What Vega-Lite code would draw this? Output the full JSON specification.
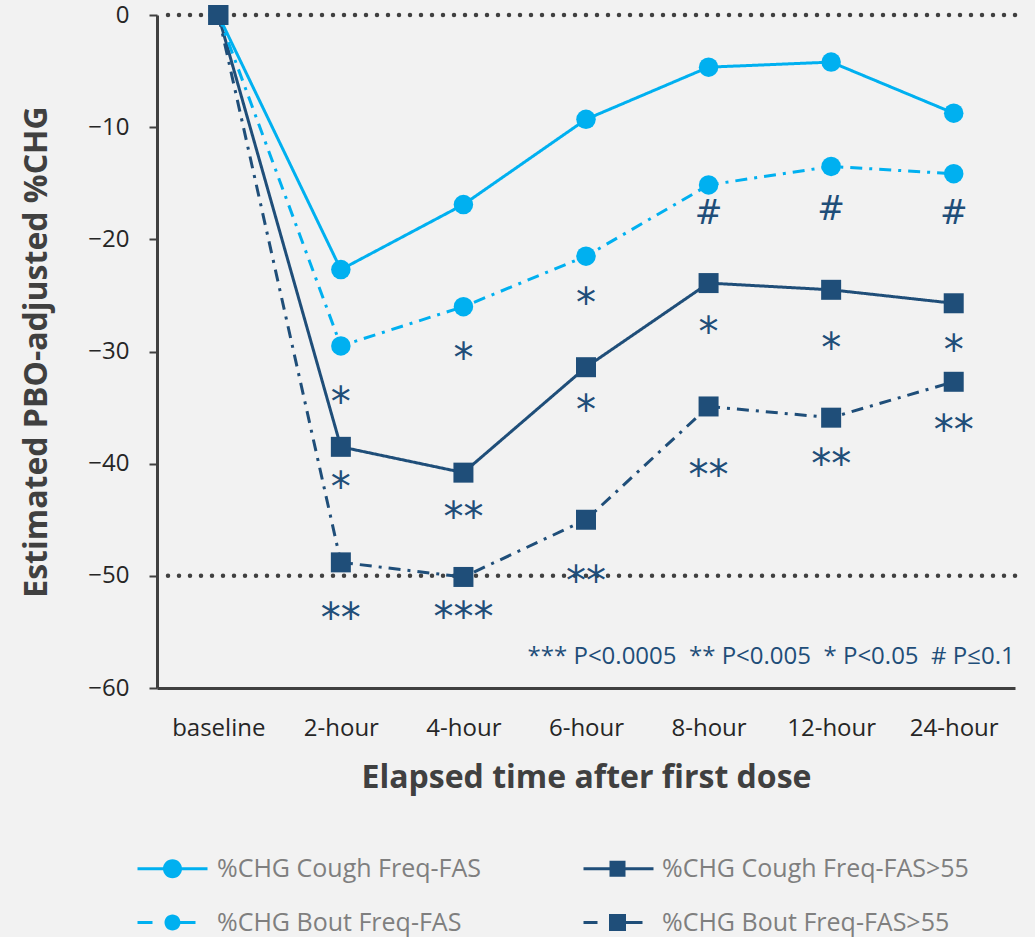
{
  "$schema": "https://vega.github.io/schema/vega-lite/v6.json",
  "width": 858,
  "height": 673,
  "autosize": "none",
  "padding": {"left": 157, "top": 15, "right": 20, "bottom": 249},
  "background": "#f2f2f2",
  "config": {
    "view": {"stroke": null},
    "font": "Open Sans",
    "axis": {"domainColor": "#404040", "domainWidth": 3, "tickColor": "#404040", "tickWidth": 2, "labelFont": "Open Sans", "labelFontSize": 24, "labelColor": "#262626", "titleFont": "Open Sans", "titleFontWeight": "bold", "titleColor": "#404040", "grid": false},
    "axisX": {"ticks": false, "labelAngle": 0, "labelPadding": 28, "titleFontSize": 32, "titlePadding": 22},
    "axisY": {"tickSize": 8, "labelPadding": 20, "titleFontSize": 32, "titlePadding": 34}
  },
  "datasets": {
    "main": [
      {"series": "%CHG Bout Freq-FAS>55", "time": "baseline", "value": 0},
      {"series": "%CHG Bout Freq-FAS>55", "time": "2-hour", "value": -48.8},
      {"series": "%CHG Bout Freq-FAS>55", "time": "4-hour", "value": -50.1},
      {"series": "%CHG Bout Freq-FAS>55", "time": "6-hour", "value": -45.0},
      {"series": "%CHG Bout Freq-FAS>55", "time": "8-hour", "value": -34.9},
      {"series": "%CHG Bout Freq-FAS>55", "time": "12-hour", "value": -35.9},
      {"series": "%CHG Bout Freq-FAS>55", "time": "24-hour", "value": -32.7},
      {"series": "%CHG Cough Freq-FAS>55", "time": "baseline", "value": 0},
      {"series": "%CHG Cough Freq-FAS>55", "time": "2-hour", "value": -38.5},
      {"series": "%CHG Cough Freq-FAS>55", "time": "4-hour", "value": -40.8},
      {"series": "%CHG Cough Freq-FAS>55", "time": "6-hour", "value": -31.4},
      {"series": "%CHG Cough Freq-FAS>55", "time": "8-hour", "value": -23.9},
      {"series": "%CHG Cough Freq-FAS>55", "time": "12-hour", "value": -24.5},
      {"series": "%CHG Cough Freq-FAS>55", "time": "24-hour", "value": -25.7},
      {"series": "%CHG Bout Freq-FAS", "time": "baseline", "value": 0},
      {"series": "%CHG Bout Freq-FAS", "time": "2-hour", "value": -29.5},
      {"series": "%CHG Bout Freq-FAS", "time": "4-hour", "value": -26.0},
      {"series": "%CHG Bout Freq-FAS", "time": "6-hour", "value": -21.5},
      {"series": "%CHG Bout Freq-FAS", "time": "8-hour", "value": -15.15},
      {"series": "%CHG Bout Freq-FAS", "time": "12-hour", "value": -13.5},
      {"series": "%CHG Bout Freq-FAS", "time": "24-hour", "value": -14.15},
      {"series": "%CHG Cough Freq-FAS", "time": "baseline", "value": 0},
      {"series": "%CHG Cough Freq-FAS", "time": "2-hour", "value": -22.7},
      {"series": "%CHG Cough Freq-FAS", "time": "4-hour", "value": -16.9},
      {"series": "%CHG Cough Freq-FAS", "time": "6-hour", "value": -9.3},
      {"series": "%CHG Cough Freq-FAS", "time": "8-hour", "value": -4.65},
      {"series": "%CHG Cough Freq-FAS", "time": "12-hour", "value": -4.2},
      {"series": "%CHG Cough Freq-FAS", "time": "24-hour", "value": -8.75}
    ],
    "sig": [
      {"time": "2-hour", "value": -33.6, "sym": "*"},
      {"time": "2-hour", "value": -41.2, "sym": "*"},
      {"time": "2-hour", "value": -52.9, "sym": "**"},
      {"time": "4-hour", "value": -29.7, "sym": "*"},
      {"time": "4-hour", "value": -43.9, "sym": "**"},
      {"time": "4-hour", "value": -52.8, "sym": "***"},
      {"time": "6-hour", "value": -24.8, "sym": "*"},
      {"time": "6-hour", "value": -34.3, "sym": "*"},
      {"time": "6-hour", "value": -49.6, "sym": "**"},
      {"time": "8-hour", "value": -17.6, "sym": "#"},
      {"time": "8-hour", "value": -27.4, "sym": "*"},
      {"time": "8-hour", "value": -40.1, "sym": "**"},
      {"time": "12-hour", "value": -17.2, "sym": "#"},
      {"time": "12-hour", "value": -28.8, "sym": "*"},
      {"time": "12-hour", "value": -39.1, "sym": "**"},
      {"time": "24-hour", "value": -17.6, "sym": "#"},
      {"time": "24-hour", "value": -29.0, "sym": "*"},
      {"time": "24-hour", "value": -36.1, "sym": "**"}
    ],
    "refs": [{"value": 0}, {"value": -50}],
    "note": [{"time": "24-hour", "value": -57.2, "label": "*** P<0.0005\u00a0\u00a0** P<0.005\u00a0\u00a0* P<0.05\u00a0\u00a0# P≤0.1"}]
  },
  "layer": [
    {
      "data": {"name": "main"},
      "transform": [{"filter": "false"}],
      "mark": {"type": "point", "filled": true, "opacity": 1, "size": 400},
      "encoding": {
        "x": {"field": "time", "type": "ordinal", "scale": {"type": "point", "domain": ["baseline", "2-hour", "4-hour", "6-hour", "8-hour", "12-hour", "24-hour"], "padding": 0.5}, "title": "Elapsed time after first dose"},
        "y": {"field": "value", "type": "quantitative", "scale": {"domain": [-60, 0], "nice": false, "zero": false}, "axis": {"values": [-60, -50, -40, -30, -20, -10, 0]}, "title": "Estimated PBO-adjusted %CHG"},
        "color": {"field": "series", "type": "nominal", "scale": {"domain": ["%CHG Cough Freq-FAS", "%CHG Bout Freq-FAS", "%CHG Cough Freq-FAS>55", "%CHG Bout Freq-FAS>55"], "range": ["#00b0f0", "#00b0f0", "#1f4e79", "#1f4e79"]}, "legend": {"orient": "none", "legendX": 3, "legendY": 841, "columns": 2, "title": null, "symbolSize": 400, "symbolStrokeWidth": 0, "labelFont": "Open Sans", "labelFontSize": 25, "labelLimit": 0, "labelColor": "#7f7f7f", "labelOffset": 32, "columnPadding": 102, "rowPadding": 28, "padding": 0}},
        "shape": {"field": "series", "type": "nominal", "scale": {"domain": ["%CHG Cough Freq-FAS", "%CHG Bout Freq-FAS", "%CHG Cough Freq-FAS>55", "%CHG Bout Freq-FAS>55"], "range": [
          "M-3.5,-0.15H3.5V0.15H-3.5Z M-0.95,0A0.95,0.95 0 1,1 0.95,0A0.95,0.95 0 1,1 -0.95,0Z",
          "M-3.5,-0.15H-2.0V0.15H-3.5Z M0.5,-0.15H2.3V0.15H0.5Z M-0.8,0A0.8,0.8 0 1,1 0.8,0A0.8,0.8 0 1,1 -0.8,0Z",
          "M-3.4,-0.15H3.6V0.15H-3.4Z M-0.8,-0.8H0.8V0.8H-0.8Z",
          "M-3.4,-0.15H-2.0V0.15H-3.4Z M0.6,-0.15H2.5V0.15H0.6Z M-0.85,-0.85H0.85V0.85H-0.85Z"
        ]}, "legend": {"orient": "none", "legendX": 3, "legendY": 841, "columns": 2, "title": null, "symbolSize": 400, "symbolStrokeWidth": 0, "labelFont": "Open Sans", "labelFontSize": 25, "labelLimit": 0, "labelColor": "#7f7f7f", "labelOffset": 32, "columnPadding": 102, "rowPadding": 28, "padding": 0}}
      }
    },
    {
      "data": {"name": "refs"},
      "mark": {"type": "rule", "color": "#404040", "strokeWidth": 4.5, "strokeDash": [0, 11], "strokeCap": "round"},
      "encoding": {
        "y": {"field": "value", "type": "quantitative", "scale": {"domain": [-60, 0], "nice": false, "zero": false}, "axis": {"values": [-60, -50, -40, -30, -20, -10, 0]}, "title": "Estimated PBO-adjusted %CHG"}
      }
    },
    {
      "data": {"name": "main"},
      "mark": {"type": "line", "strokeWidth": 3},
      "encoding": {
        "x": {"field": "time", "type": "ordinal", "scale": {"type": "point", "domain": ["baseline", "2-hour", "4-hour", "6-hour", "8-hour", "12-hour", "24-hour"], "padding": 0.5}, "title": "Elapsed time after first dose"},
        "y": {"field": "value", "type": "quantitative", "scale": {"domain": [-60, 0], "nice": false, "zero": false}, "axis": {"values": [-60, -50, -40, -30, -20, -10, 0]}, "title": "Estimated PBO-adjusted %CHG"},
        "color": {"field": "series", "type": "nominal", "legend": null},
        "strokeDash": {"field": "series", "type": "nominal", "scale": {"domain": ["%CHG Cough Freq-FAS", "%CHG Bout Freq-FAS", "%CHG Cough Freq-FAS>55", "%CHG Bout Freq-FAS>55"], "range": [[1, 0], [12, 7, 3, 7], [1, 0], [12, 7, 3, 7]]}, "legend": null}
      }
    },
    {
      "data": {"name": "main"},
      "transform": [{"filter": {"field": "series", "oneOf": ["%CHG Cough Freq-FAS", "%CHG Bout Freq-FAS"]}}],
      "mark": {"type": "point", "shape": "circle", "filled": true, "opacity": 1, "size": 380},
      "encoding": {
        "x": {"field": "time", "type": "ordinal", "scale": {"type": "point", "domain": ["baseline", "2-hour", "4-hour", "6-hour", "8-hour", "12-hour", "24-hour"], "padding": 0.5}, "title": "Elapsed time after first dose"},
        "y": {"field": "value", "type": "quantitative", "scale": {"domain": [-60, 0], "nice": false, "zero": false}, "axis": {"values": [-60, -50, -40, -30, -20, -10, 0]}, "title": "Estimated PBO-adjusted %CHG"},
        "color": {"field": "series", "type": "nominal", "legend": null}
      }
    },
    {
      "data": {"name": "main"},
      "transform": [{"filter": {"field": "series", "oneOf": ["%CHG Cough Freq-FAS>55", "%CHG Bout Freq-FAS>55"]}}],
      "mark": {"type": "point", "shape": "square", "filled": true, "opacity": 1, "size": 400},
      "encoding": {
        "x": {"field": "time", "type": "ordinal", "scale": {"type": "point", "domain": ["baseline", "2-hour", "4-hour", "6-hour", "8-hour", "12-hour", "24-hour"], "padding": 0.5}, "title": "Elapsed time after first dose"},
        "y": {"field": "value", "type": "quantitative", "scale": {"domain": [-60, 0], "nice": false, "zero": false}, "axis": {"values": [-60, -50, -40, -30, -20, -10, 0]}, "title": "Estimated PBO-adjusted %CHG"},
        "color": {"field": "series", "type": "nominal", "legend": null}
      }
    },
    {
      "data": {"name": "sig"},
      "transform": [{"filter": "datum.sym !== '#'"}],
      "mark": {"type": "text", "font": "DejaVu Sans", "fontSize": 40, "color": "#1f4e79", "baseline": "middle", "align": "center", "dy": 12},
      "encoding": {
        "x": {"field": "time", "type": "ordinal", "scale": {"type": "point", "domain": ["baseline", "2-hour", "4-hour", "6-hour", "8-hour", "12-hour", "24-hour"], "padding": 0.5}, "title": "Elapsed time after first dose"},
        "y": {"field": "value", "type": "quantitative", "scale": {"domain": [-60, 0], "nice": false, "zero": false}, "axis": {"values": [-60, -50, -40, -30, -20, -10, 0]}, "title": "Estimated PBO-adjusted %CHG"},
        "text": {"field": "sym"}
      }
    },
    {
      "data": {"name": "sig"},
      "transform": [{"filter": "datum.sym === '#'"}],
      "mark": {"type": "text", "font": "DejaVu Sans", "fontSize": 33, "color": "#1f4e79", "baseline": "middle", "align": "center", "dy": 2},
      "encoding": {
        "x": {"field": "time", "type": "ordinal", "scale": {"type": "point", "domain": ["baseline", "2-hour", "4-hour", "6-hour", "8-hour", "12-hour", "24-hour"], "padding": 0.5}, "title": "Elapsed time after first dose"},
        "y": {"field": "value", "type": "quantitative", "scale": {"domain": [-60, 0], "nice": false, "zero": false}, "axis": {"values": [-60, -50, -40, -30, -20, -10, 0]}, "title": "Estimated PBO-adjusted %CHG"},
        "text": {"field": "sym"}
      }
    },
    {
      "data": {"name": "note"},
      "mark": {"type": "text", "font": "Open Sans", "fontSize": 24, "color": "#1f4e79", "baseline": "middle", "align": "right", "dx": 61},
      "encoding": {
        "x": {"field": "time", "type": "ordinal", "scale": {"type": "point", "domain": ["baseline", "2-hour", "4-hour", "6-hour", "8-hour", "12-hour", "24-hour"], "padding": 0.5}, "title": "Elapsed time after first dose"},
        "y": {"field": "value", "type": "quantitative", "scale": {"domain": [-60, 0], "nice": false, "zero": false}, "axis": {"values": [-60, -50, -40, -30, -20, -10, 0]}, "title": "Estimated PBO-adjusted %CHG"},
        "text": {"field": "label"}
      }
    }
  ]
}
